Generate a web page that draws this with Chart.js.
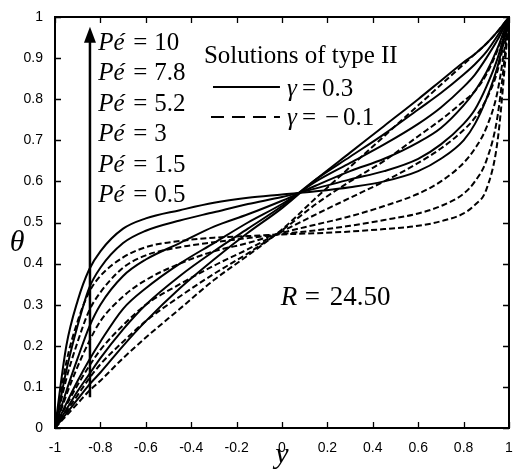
<!DOCTYPE html>
<html>
<head>
<meta charset="utf-8">
<script src="https://cdn.jsdelivr.net/npm/chart.js@4.4.1/dist/chart.umd.min.js"></script>
<style>
html,body{margin:0;padding:0;background:#fff;}
canvas{display:block;}
</style>
</head>
<body>
<canvas id="c" width="513" height="473"></canvas>
<script>
// ---------- DATA ----------
const yGrid = [-1, -0.95, -0.9, -0.85, -0.8, -0.7, -0.6, -0.45, -0.3, -0.15, 0, 0.15, 0.3, 0.45, 0.6, 0.7, 0.8, 0.85, 0.9, 0.95, 1];
const peValues = [0.5, 1.5, 3, 5.2, 7.8, 10];

// gamma = 0.3 (solid)
const solidPe05 = [0, 0.035, 0.07, 0.105, 0.135, 0.2, 0.26, 0.34, 0.41, 0.475, 0.535, 0.605, 0.67, 0.735, 0.8, 0.845, 0.89, 0.91, 0.935, 0.965, 1];
const solidPe15 = [0, 0.045, 0.09, 0.13, 0.17, 0.24, 0.3, 0.37, 0.43, 0.485, 0.54, 0.605, 0.66, 0.715, 0.775, 0.815, 0.86, 0.885, 0.915, 0.955, 1];
const solidPe3  = [0, 0.06, 0.115, 0.165, 0.21, 0.29, 0.34, 0.4, 0.45, 0.5, 0.545, 0.6, 0.645, 0.69, 0.74, 0.78, 0.83, 0.86, 0.9, 0.945, 1];
const solidPe52 = [0, 0.09, 0.17, 0.245, 0.3, 0.37, 0.41, 0.45, 0.49, 0.52, 0.553, 0.59, 0.625, 0.655, 0.695, 0.73, 0.785, 0.82, 0.865, 0.925, 1];
const solidPe78 = [0, 0.14, 0.25, 0.34, 0.39, 0.45, 0.48, 0.505, 0.525, 0.545, 0.562, 0.583, 0.605, 0.625, 0.655, 0.69, 0.74, 0.775, 0.83, 0.9, 1];
const solidPe10 = [0, 0.2, 0.31, 0.385, 0.43, 0.485, 0.51, 0.53, 0.548, 0.56, 0.568, 0.576, 0.586, 0.6, 0.625, 0.655, 0.7, 0.74, 0.8, 0.88, 1];

// gamma = -0.1 (dashed)
const dashPe05 = [0, 0.03, 0.06, 0.09, 0.115, 0.17, 0.22, 0.29, 0.36, 0.42, 0.483, 0.56, 0.635, 0.71, 0.785, 0.835, 0.885, 0.91, 0.935, 0.965, 1];
const dashPe15 = [0, 0.04, 0.08, 0.12, 0.155, 0.21, 0.26, 0.32, 0.375, 0.425, 0.481, 0.545, 0.6, 0.65, 0.71, 0.75, 0.795, 0.82, 0.86, 0.92, 1];
const dashPe3  = [0, 0.055, 0.105, 0.15, 0.19, 0.25, 0.3, 0.35, 0.395, 0.435, 0.478, 0.52, 0.56, 0.6, 0.645, 0.68, 0.725, 0.755, 0.8, 0.87, 1];
const dashPe52 = [0, 0.08, 0.15, 0.21, 0.26, 0.32, 0.36, 0.4, 0.43, 0.45, 0.475, 0.495, 0.515, 0.54, 0.57, 0.6, 0.645, 0.68, 0.73, 0.82, 1];
const dashPe78 = [0, 0.12, 0.21, 0.285, 0.33, 0.39, 0.42, 0.44, 0.452, 0.462, 0.472, 0.481, 0.492, 0.506, 0.522, 0.54, 0.57, 0.6, 0.65, 0.76, 1];
const dashPe10 = [0, 0.16, 0.26, 0.33, 0.37, 0.415, 0.44, 0.455, 0.463, 0.467, 0.471, 0.474, 0.478, 0.484, 0.492, 0.503, 0.522, 0.543, 0.58, 0.7, 1];

const xTickValues = [-1, -0.8, -0.6, -0.4, -0.2, 0, 0.2, 0.4, 0.6, 0.8, 1];
const xTickLabels = ['-1', '-0.8', '-0.6', '-0.4', '-0.2', '0', '0.2', '0.4', '0.6', '0.8', '1'];
const yTickValues = [0, 0.1, 0.2, 0.3, 0.4, 0.5, 0.6, 0.7, 0.8, 0.9, 1];
const yTickLabels = ['0', '0.1', '0.2', '0.3', '0.4', '0.5', '0.6', '0.7', '0.8', '0.9', '1'];

const peLabels = ['10', '7.8', '5.2', '3', '1.5', '0.5'];
const legendTitle = 'Solutions of type II';
const gammaSolid = '0.3';
const gammaDashed = '0.1';
const rLabel = '24.50';
// ---------- END DATA ----------

const solidSeries = [solidPe05, solidPe15, solidPe3, solidPe52, solidPe78, solidPe10];
const dashSeries = [dashPe05, dashPe15, dashPe3, dashPe52, dashPe78, dashPe10];

function toPts(arr) { return yGrid.map((y, i) => ({x: y, y: arr[i]})); }

const datasets = [];
solidSeries.forEach((s, i) => datasets.push({
  label: 'gamma=0.3 Pe=' + peValues[i], data: toPts(s), borderColor: '#000', borderWidth: 2,
  pointRadius: 0, fill: false, cubicInterpolationMode: 'monotone'
}));
dashSeries.forEach((s, i) => datasets.push({
  label: 'gamma=-0.1 Pe=' + peValues[i], data: toPts(s), borderColor: '#000', borderWidth: 2,
  borderDash: [6, 3], pointRadius: 0, fill: false, cubicInterpolationMode: 'monotone'
}));

const serif = '"Liberation Serif", "Times New Roman", serif';

const decor = {
  id: 'decor',
  afterDraw(chart) {
    const ctx = chart.ctx, xs = chart.scales.x, ys = chart.scales.y, a = chart.chartArea;
    ctx.save();
    // frame
    ctx.strokeStyle = '#000';
    ctx.lineWidth = 2;
    ctx.setLineDash([]);
    ctx.strokeRect(a.left, a.top, a.right - a.left, a.bottom - a.top);
    // inward ticks
    ctx.lineWidth = 1.3;
    const tl = 6;
    xTickValues.forEach(v => {
      const px = Math.round(xs.getPixelForValue(v)) + 0.5;
      ctx.beginPath();
      ctx.moveTo(px, a.bottom); ctx.lineTo(px, a.bottom - tl);
      ctx.moveTo(px, a.top); ctx.lineTo(px, a.top + tl);
      ctx.stroke();
    });
    yTickValues.forEach(v => {
      const py = Math.round(ys.getPixelForValue(v)) + 0.5;
      ctx.beginPath();
      ctx.moveTo(a.left, py); ctx.lineTo(a.left + tl, py);
      ctx.moveTo(a.right, py); ctx.lineTo(a.right - tl, py);
      ctx.stroke();
    });
    // arrow
    const ax = xs.getPixelForValue(-0.846);
    const ay0 = ys.getPixelForValue(0.075), ay1 = ys.getPixelForValue(0.976);
    ctx.lineWidth = 2.5;
    ctx.beginPath(); ctx.moveTo(ax, ay0); ctx.lineTo(ax, ay1 + 12); ctx.stroke();
    ctx.fillStyle = '#000';
    ctx.beginPath(); ctx.moveTo(ax, ay1); ctx.lineTo(ax - 6, ay1 + 16); ctx.lineTo(ax + 6, ay1 + 16); ctx.closePath(); ctx.fill();

    // Pe labels
    ctx.fillStyle = '#000';
    ctx.textBaseline = 'alphabetic';
    ctx.textAlign = 'left';
    const px0 = xs.getPixelForValue(-0.81);
    peLabels.forEach((lab, i) => {
      const by = a.top + 33 + i * 30.4;
      ctx.font = 'italic 25px ' + serif;
      ctx.fillText('Pé', px0, by);
      ctx.font = '25px ' + serif;
      ctx.fillText('=', px0 + 35, by);
      ctx.fillText(lab, px0 + 56, by);
    });

    // legend
    ctx.font = '25px ' + serif;
    ctx.fillText(legendTitle, xs.getPixelForValue(-0.344), a.top + 46);
    ctx.lineWidth = 2;
    const lx0 = xs.getPixelForValue(-0.304), lx1 = xs.getPixelForValue(-0.009);
    ctx.beginPath(); ctx.moveTo(lx0, a.top + 70); ctx.lineTo(lx1, a.top + 70); ctx.stroke();
    ctx.setLineDash([13, 8]);
    ctx.beginPath(); ctx.moveTo(lx0 - 2, a.top + 100); ctx.lineTo(lx1, a.top + 100); ctx.stroke();
    ctx.setLineDash([]);
    const gx = xs.getPixelForValue(0.022);
    ctx.font = 'italic 25px ' + serif;
    ctx.fillText('γ', gx, a.top + 79);
    ctx.fillText('γ', gx, a.top + 108);
    ctx.font = '25px ' + serif;
    ctx.fillText('=', gx + 15, a.top + 79);
    ctx.fillText(gammaSolid, gx + 35, a.top + 79);
    ctx.fillText('=', gx + 15, a.top + 108);
    ctx.fillText('−', gx + 38, a.top + 108);
    ctx.fillText(gammaDashed, gx + 56, a.top + 108);

    // R label
    const rx = xs.getPixelForValue(-0.005);
    const ry = ys.getPixelForValue(0.3);
    ctx.font = 'italic 27px ' + serif;
    ctx.fillText('R', rx, ry);
    ctx.font = '27px ' + serif;
    ctx.fillText('=', rx + 24, ry);
    ctx.fillText(rLabel, rx + 49, ry);

    // axis titles
    ctx.textAlign = 'center';
    ctx.textBaseline = 'middle';
    ctx.font = 'italic 30px ' + serif;
    ctx.fillText('θ', 17, ys.getPixelForValue(0.45));
    ctx.fillText('y', (a.left + a.right) / 2, a.bottom + 27);
    ctx.restore();
  }
};

new Chart(document.getElementById('c'), {
  type: 'line',
  data: {datasets},
  options: {
    responsive: false,
    animation: false,
    devicePixelRatio: 1,
    layout: {padding: {top: 17, right: 4, left: 0, bottom: 0}},
    plugins: {legend: {display: false}, tooltip: {enabled: false}},
    scales: {
      x: {
        type: 'linear', min: -1, max: 1,
        grid: {display: false}, border: {display: false},
        afterFit(s) { s.height = 45; s.paddingRight = 0; s.paddingLeft = 0; },
        afterBuildTicks(s) { s.ticks = xTickValues.map(v => ({value: v})); },
        ticks: {
          color: '#000', padding: 4, maxRotation: 0, autoSkip: false,
          font: {family: '"Liberation Sans", Arial, sans-serif', size: 14},
          callback: (v, i) => xTickLabels[i]
        }
      },
      y: {
        type: 'linear', min: 0, max: 1,
        grid: {display: false}, border: {display: false},
        afterFit(s) { s.width = 55; s.paddingTop = 0; s.paddingBottom = 0; },
        afterBuildTicks(s) { s.ticks = yTickValues.map(v => ({value: v})); },
        ticks: {
          color: '#000', padding: 4, autoSkip: false,
          font: {family: '"Liberation Sans", Arial, sans-serif', size: 14},
          callback: (v, i) => yTickLabels[i]
        }
      }
    }
  },
  plugins: [decor]
});
</script>
</body>
</html>
